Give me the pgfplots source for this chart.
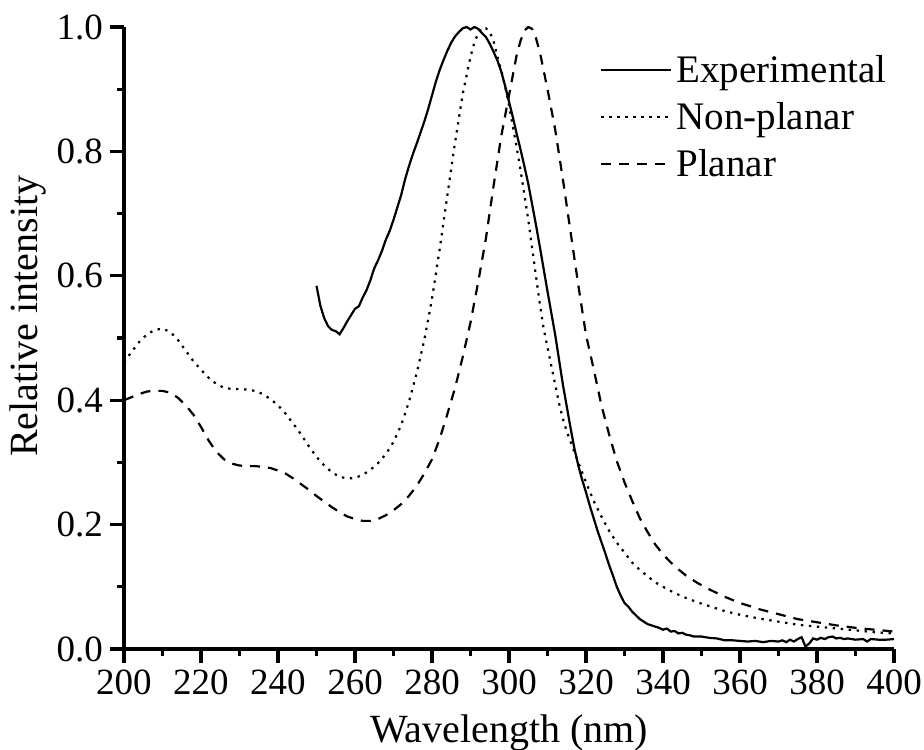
\documentclass[border=0pt]{standalone}
\usepackage{fontspec}
\setmainfont{Liberation Serif}
\usepackage{pgfplots}
\pgfplotsset{compat=1.18}

\begin{document}
\begin{tikzpicture}
\path[use as bounding box] (-62pt,-50pt) rectangle (400pt,324.5pt);
\begin{axis}[
  at={(0,0)}, anchor=south west,
  width=385pt, height=311pt, scale only axis,
  xmin=200, xmax=400, ymin=0, ymax=1,
  axis lines=left,
  axis line style={-, line width=1.6pt},
  xtick={200,220,...,400},
  ytick={0,0.2,0.4,0.6,0.8,1.0},
  minor x tick num=1, minor y tick num=1,
  tick align=outside,
  major tick length=7pt, minor tick length=3.5pt,
  tick style={line width=1.6pt, black},
  /pgf/number format/assume math mode=true,
  yticklabel style={/pgf/number format/.cd, fixed, fixed zerofill, precision=1},
  xticklabel style={/pgf/number format/.cd, set thousands separator={}},
  ticklabel style={font=\fontsize{18.5}{22}\selectfont},
  xlabel={Wavelength (nm)},
  ylabel={Relative intensity},
  label style={font=\fontsize{20}{24}\selectfont},
  xlabel style={yshift=-3pt},
  ylabel style={at={(ticklabel cs:0.535,-1.5pt)}},
  legend style={draw=none, fill=none, at={(axis cs:323.6,0.962)}, anchor=north west,
    font=\fontsize{19.5}{23}\selectfont, row sep=4.5pt, inner sep=0pt},
  legend cell align=left,
  legend image code/.code={\draw[#1] (-1pt,0pt) -- (34pt,0pt);},
]
\addplot[black, line width=1.1pt] coordinates {
(250,0.584)(251,0.552)(252,0.532)(253,0.519)(254,0.513)(255,0.511)(256,0.506)(257,0.516)
(258,0.527)(259,0.537)(260,0.547)(261,0.551)(262,0.565)(263,0.577)(264,0.593)(265,0.612)
(266,0.625)(267,0.640)(268,0.658)(269,0.672)(270,0.690)(271,0.710)(272,0.730)(273,0.755)
(274,0.776)(275,0.795)(276,0.812)(277,0.830)(278,0.848)(279,0.868)(280,0.890)(281,0.912)
(282,0.931)(283,0.947)(284,0.962)(285,0.975)(286,0.985)(287,0.992)(288,0.998)(289,1.000)
(290,0.996)(291,1.000)(292,0.997)(293,0.990)(294,0.984)(295,0.973)(296,0.960)(297,0.946)
(298,0.928)(299,0.905)(300,0.880)(301,0.855)(302,0.828)(303,0.803)(304,0.776)(305,0.748)
(306,0.715)(307,0.682)(308,0.647)(309,0.611)(310,0.575)(311,0.540)(312,0.505)(313,0.465)
(314,0.425)(315,0.390)(316,0.355)(317,0.322)(318,0.295)(319,0.272)(320,0.252)(321,0.230)
(322,0.210)(323,0.190)(324,0.172)(325,0.154)(326,0.135)(327,0.118)(328,0.100)(329,0.086)
(330,0.074)(331,0.068)(332,0.060)(333,0.054)(334,0.048)(335,0.044)(336,0.040)(337,0.038)
(338,0.036)(339,0.034)(340,0.031)(341,0.033)(342,0.028)(343,0.029)(344,0.025)(345,0.026)
(346,0.023)(347,0.022)(348,0.020)(350,0.020)(352,0.018)(354,0.017)(356,0.014)(358,0.014)
(360,0.013)(362,0.012)(364,0.013)(366,0.011)(368,0.013)(370,0.012)(371,0.014)(372,0.011)
(373,0.015)(374,0.012)(375,0.016)(376,0.019)(377,0.004)(378,0.009)(379,0.017)(380,0.015)
(381,0.018)(382,0.016)(383,0.019)(384,0.020)(385,0.017)(386,0.018)(387,0.016)(388,0.017)
(390,0.015)(392,0.016)(393,0.012)(394,0.016)(396,0.015)(398,0.015)(400,0.016)
};
\addlegendentry{Experimental}
\addplot[black, line width=1.1pt, dash pattern=on 1.2pt off 2.8pt] coordinates {
(200,0.461)(202,0.478)(204,0.494)(206,0.506)(208,0.513)(210,0.515)(212,0.510)(214,0.497)
(216,0.480)(218,0.463)(220,0.449)(222,0.436)(224,0.426)(226,0.420)(228,0.418)(230,0.418)
(232,0.417)(234,0.415)(236,0.410)(238,0.402)(240,0.392)(242,0.378)(244,0.362)(246,0.345)
(248,0.326)(250,0.309)(252,0.295)(254,0.284)(256,0.277)(258,0.274)(260,0.275)(262,0.280)
(264,0.288)(266,0.299)(268,0.313)(270,0.333)(272,0.360)(274,0.397)(276,0.443)(278,0.497)
(280,0.563)(282,0.643)(284,0.730)(286,0.815)(288,0.893)(290,0.952)(291,0.975)(292,0.990)
(293,0.999)(294,0.998)(295,0.992)(296,0.977)(297,0.952)(298,0.930)(299,0.904)(300,0.874)
(301,0.840)(302,0.806)(303,0.770)(304,0.730)(305,0.690)(306,0.645)(307,0.600)(308,0.555)
(309,0.515)(310,0.485)(311,0.455)(312,0.425)(313,0.395)(314,0.370)(315,0.350)(316,0.333)
(318,0.300)(320,0.268)(322,0.238)(324,0.213)(326,0.190)(328,0.171)(330,0.155)(332,0.139)
(334,0.127)(336,0.117)(338,0.107)(340,0.100)(343,0.090)(346,0.082)(349,0.075)(352,0.069)
(356,0.061)(360,0.055)(365,0.049)(370,0.044)(375,0.039)(380,0.036)(385,0.033)(390,0.030)
(395,0.027)(400,0.025)
};
\addlegendentry{Non-planar}
\addplot[black, line width=1.1pt, dash pattern=on 5pt off 4pt] coordinates {
(200,0.400)(202,0.405)(204,0.410)(206,0.414)(208,0.415)(210,0.415)(212,0.412)(214,0.404)
(216,0.392)(218,0.377)(220,0.357)(222,0.335)(224,0.317)(226,0.305)(228,0.298)(230,0.295)
(232,0.294)(234,0.294)(236,0.293)(238,0.291)(240,0.287)(242,0.282)(244,0.274)(246,0.265)
(248,0.256)(250,0.246)(252,0.237)(254,0.228)(256,0.220)(258,0.213)(260,0.209)(262,0.206)
(264,0.206)(266,0.209)(268,0.215)(270,0.223)(272,0.233)(274,0.246)(276,0.262)(278,0.282)
(280,0.305)(282,0.338)(284,0.378)(286,0.420)(288,0.470)(290,0.525)(292,0.590)(294,0.660)
(296,0.745)(298,0.825)(300,0.890)(302,0.955)(303,0.978)(304,0.994)(305,1.000)(306,0.997)
(307,0.982)(308,0.960)(310,0.900)(312,0.835)(314,0.755)(316,0.670)(318,0.585)(320,0.505)
(322,0.450)(324,0.392)(326,0.345)(328,0.302)(330,0.268)(332,0.238)(334,0.210)(336,0.188)
(338,0.168)(340,0.152)(343,0.133)(346,0.118)(349,0.106)(352,0.096)(356,0.084)(360,0.074)
(365,0.064)(370,0.056)(375,0.048)(380,0.043)(385,0.038)(390,0.034)(395,0.031)(400,0.028)
};
\addlegendentry{Planar}
\end{axis}
\end{tikzpicture}
\end{document}
